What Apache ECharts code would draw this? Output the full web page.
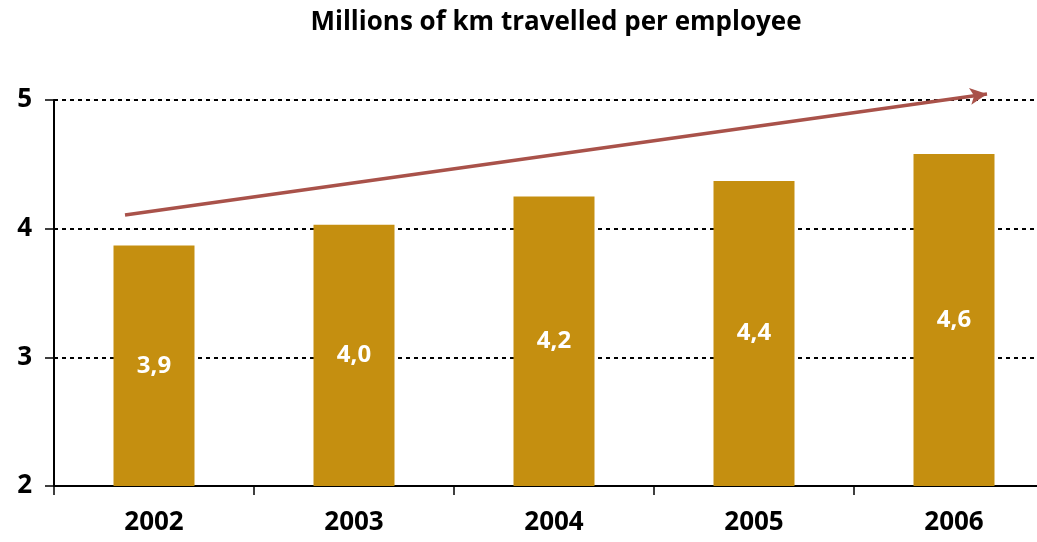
<!DOCTYPE html>
<html><head><meta charset="utf-8">
<script src="https://cdn.jsdelivr.net/npm/echarts@6/dist/echarts.min.js"></script>
<style>html,body{margin:0;padding:0;background:#fff;overflow:hidden;width:1037px;height:542px}#c{width:1060px;height:542px}</style>
</head><body><div id="c"></div>
<script>
const categories = ['2002','2003','2004','2005','2006'];
const values = [3.87, 4.03, 4.25, 4.37, 4.58];
const valueLabels = ['3,9','4,0','4,2','4,4','4,6'];
const trendStart = [0.355, 4.106];
const trendEnd = [4.665, 5.047];
const yTicks = [2, 3, 4, 5];

const FONT = '"Open Sans", "DejaVu Sans", sans-serif';
const ARROW = '#A9524A';
const chart = echarts.init(document.getElementById('c'));
chart.setOption({
  animation: false,
  backgroundColor: '#fff',
  title: {
    text: 'Millions of km travelled per employee',
    left: 551, top: 5, textAlign: 'center',
    textStyle: {fontFamily: FONT, fontWeight: 'bold', fontSize: 26, color: '#000'}
  },
  grid: {left: 54, top: 100, width: 1000, height: 386},
  xAxis: [{
    type: 'category', data: categories,
    axisLine: {lineStyle: {color: '#000', width: 2}},
    axisTick: {show: true, length: 9, interval: 0, lineStyle: {color: '#000', width: 1.5}},
    axisLabel: {margin: 24, fontFamily: FONT, fontWeight: 'bold', fontSize: 26, color: '#000'}
  }, {
    type: 'value', min: 0, max: 5, show: false
  }],
  yAxis: {
    type: 'value', min: yTicks[0], max: yTicks[yTicks.length-1], interval: 1,
    axisLine: {show: true, lineStyle: {color: '#000', width: 2}},
    axisTick: {show: true, length: 9, lineStyle: {color: '#000', width: 1.5}},
    axisLabel: {margin: 22, fontFamily: FONT, fontWeight: 'bold', fontSize: 26, color: '#000'},
    splitLine: {show: true, lineStyle: {color: '#000', width: 2, type: [4, 4]}}
  },
  series: [{
    type: 'bar', data: values, barWidth: 81,
    itemStyle: {color: '#C58F10'},
    label: {
      show: true, position: 'inside',
      formatter: p => valueLabels[p.dataIndex],
      fontFamily: FONT, fontWeight: 'bold', fontSize: 24, color: '#fff'
    }
  }, {
    type: 'line', xAxisIndex: 1, yAxisIndex: 0,
    data: [trendStart, trendEnd], clip: false,
    showSymbol: false, symbol: 'none', z: 5,
    lineStyle: {color: ARROW, width: 3.5}
  }]
});
// arrowhead at the end of the trend line, positioned through the chart's own scales
const p0 = chart.convertToPixel({xAxisIndex: 1, yAxisIndex: 0}, trendStart);
const p1 = chart.convertToPixel({xAxisIndex: 1, yAxisIndex: 0}, trendEnd);
const dx = p1[0] - p0[0], dy = p1[1] - p0[1];
const len = Math.sqrt(dx*dx + dy*dy), ux = dx/len, uy = dy/len;
const headLen = 17, headHalf = 8.5;
const bx = p1[0] - ux*headLen, by = p1[1] - uy*headLen;
chart.setOption({
  graphic: [{
    type: 'polygon', z: 100,
    shape: {points: [
      [p1[0], p1[1]],
      [bx - uy*headHalf, by + ux*headHalf],
      [bx + ux*4, by + uy*4],
      [bx + uy*headHalf, by - ux*headHalf]
    ]},
    style: {fill: ARROW}
  }]
});
</script></body></html>
